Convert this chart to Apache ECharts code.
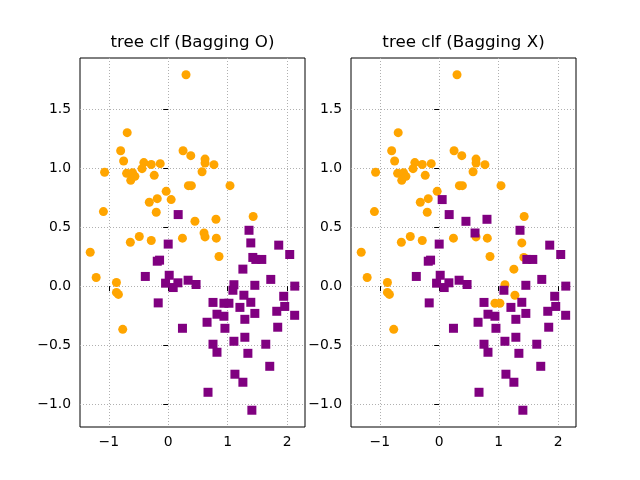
<!DOCTYPE html>
<html><head><meta charset="utf-8">
<script src="https://cdn.jsdelivr.net/npm/echarts@6/dist/echarts.min.js"></script>
<style>html,body{margin:0;padding:0;background:#fff}#c{width:640px;height:480px}</style>
</head><body><div id="c"></div>
<script>
const titles = ['tree clf (Bagging O)', 'tree clf (Bagging X)'];
const xTicks = [-1, 0, 1, 2];
const yTicks = [-1.0, -0.5, 0.0, 0.5, 1.0, 1.5];
const pointX = [0.30,-0.69,-0.80,-0.75,-0.41,-0.285,-0.134,-0.44,-1.07,-0.70,
  -0.60,-0.56,-0.63,-0.235,0.25,0.38,0.34,0.39,0.62,0.62,
  0.77,0.57,1.04,-0.034,0.05,-0.184,-0.318,-0.201,-1.09,0.168,
  0.45,0.804,1.43,1.36,0.603,0.62,0.81,0.24,-0.637,-0.486,
  -0.285,0.0,1.39,1.86,0.855,-1.312,-0.184,-0.145,-0.385,-1.212,
  -0.871,-0.871,-0.838,0.017,-0.044,0.084,0.163,0.335,0.469,-0.168,
  -0.765,0.24,2.045,1.424,1.475,1.575,1.257,1.106,1.089,1.458,
  1.726,2.13,1.274,1.944,0.754,0.938,1.022,1.39,1.207,1.961,
  1.827,0.821,0.938,1.458,2.128,1.29,0.654,0.955,1.843,1.106,
  1.29,0.754,0.821,1.642,1.341,1.709,1.123,1.257,0.67,1.408];
const pointY = [1.79,1.30,1.147,1.06,1.046,1.03,1.037,0.995,0.964,0.955,
  0.961,0.93,0.896,0.938,1.147,1.105,0.851,0.851,1.076,1.042,
  1.029,0.969,0.851,0.803,0.733,0.741,0.71,0.626,0.631,0.606,
  0.549,0.566,0.59,0.473,0.45,0.417,0.406,0.406,0.372,0.42,
  0.386,0.356,0.366,0.347,0.251,0.287,0.211,0.22,0.082,0.073,
  0.031,-0.053,-0.070,0.092,0.025,-0.012,0.028,0.05,0.014,-0.142,
  -0.366,-0.357,0.268,0.243,0.226,0.226,0.144,0.012,-0.035,0.007,
  0.057,0.0,-0.077,-0.086,-0.138,-0.145,-0.145,-0.137,-0.18,-0.172,
  -0.213,-0.238,-0.255,-0.231,-0.247,-0.281,-0.306,-0.357,-0.348,-0.467,
  -0.433,-0.492,-0.56,-0.492,-0.569,-0.679,-0.746,-0.814,-0.899,-1.051];
const classBagging = [0,0,0,0,0,0,0,0,0,0,
  0,0,0,0,0,0,0,0,0,0,
  0,0,0,0,0,0,0,0,0,1,
  0,0,0,1,0,0,0,0,0,0,
  0,1,1,1,0,0,1,1,1,0,
  0,0,0,1,1,1,1,1,1,1,
  0,1,1,1,1,1,1,1,1,1,
  1,1,1,1,1,1,1,1,1,1,
  1,1,1,1,1,1,1,1,1,1,
  1,1,1,1,1,1,1,1,1,1];
const classTree = [0,0,0,0,0,0,0,0,0,0,
  0,0,0,0,0,0,0,0,0,0,
  0,0,0,0,1,0,0,0,0,1,
  1,1,0,1,1,0,0,0,0,0,
  0,1,0,1,0,0,1,1,1,0,
  0,0,0,1,1,1,1,1,1,1,
  0,1,1,0,1,1,0,0,1,1,
  1,1,0,1,1,0,0,1,1,1,
  1,1,1,1,1,1,1,1,1,1,
  1,1,1,1,1,1,1,1,1,1];
const classColors = ['#ffa500', '#800080'];
const classSymbols = ['circle', 'rect'];

function pad(arr){const mn=Math.min(...arr),mx=Math.max(...arr),r=mx-mn;return [mn-0.05*r,mx+0.05*r];}
const xr = pad(pointX), yr = pad(pointY);
const fmt = (v, d) => (d ? v.toFixed(d) : String(Math.round(v))).replace('-', '\u2212');

const gridLefts = [80, 351];
const labelSets = [classBagging, classTree];
const font = 'DejaVu Sans';
const grids = [], xAxes = [], yAxes = [], series = [], titleOpts = [];
gridLefts.forEach((gl, i) => {
  grids.push({left: gl, top: 58, width: 225, height: 369, show: true, borderColor: '#000', borderWidth: 1, backgroundColor: '#fff', containLabel: false});
  titleOpts.push({text: titles[i], left: gl + 112.5, top: 34, textAlign: 'center', padding: 0,
    textStyle: {fontFamily: font, fontSize: 16.7, fontWeight: 'normal', color: '#000'}});
  const split = {show: true, lineStyle: {color: '#b0b0b0', width: 1, type: [1, 2]}};
  xAxes.push({type: 'value', gridIndex: i, min: xr[0], max: xr[1],
    axisLine: {show: false}, splitLine: split,
    axisTick: {show: true, inside: false, length: 5, lineStyle: {color: '#000', width: 1}, customValues: xTicks},
    axisLabel: {show: true, margin: 8, color: '#000', fontFamily: font, fontSize: 13.9, customValues: xTicks, formatter: v => fmt(v, 0)}});
  yAxes.push({type: 'value', gridIndex: i, min: yr[0], max: yr[1],
    axisLine: {show: false}, splitLine: split,
    axisTick: {show: true, inside: false, length: 5, lineStyle: {color: '#000', width: 1}, customValues: yTicks},
    axisLabel: {show: true, margin: 9, color: '#000', fontFamily: font, fontSize: 13.9, customValues: yTicks, formatter: v => fmt(v, 1)}});
  [0, 1].forEach(c => {
    const data = [];
    pointX.forEach((x, k) => { if (labelSets[i][k] === c) data.push([x, pointY[k]]); });
    series.push({type: 'scatter', xAxisIndex: i, yAxisIndex: i, data, symbol: classSymbols[c], symbolSize: 9,
      itemStyle: {color: classColors[c], opacity: 1}, silent: true, animation: false, z: 2 + c});
  });
});
const chart = echarts.init(document.getElementById('c'), null, {renderer: 'canvas'});
chart.setOption({animation: false, backgroundColor: '#fff', title: titleOpts, grid: grids, xAxis: xAxes, yAxis: yAxes, series});
</script></body></html>
